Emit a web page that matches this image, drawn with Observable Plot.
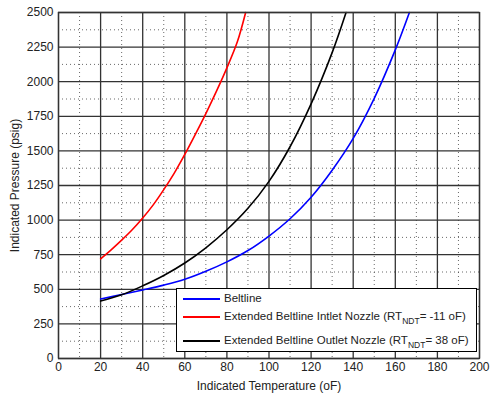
<!DOCTYPE html>
<html><head><meta charset="utf-8">
<script src="https://cdn.jsdelivr.net/npm/d3@7"></script>
<script src="https://cdn.jsdelivr.net/npm/@observablehq/plot@0.6"></script>
<style>
body{margin:0;background:#fff;font-family:"Liberation Sans",Arial,sans-serif;}
#wrap{position:relative;width:492px;height:398px;}
#legend{position:absolute;left:176px;top:288px;width:301px;height:64px;border:1px solid #000;background:#fff;box-sizing:border-box;font-size:11.5px;color:#222;}
.row{position:absolute;left:6px;white-space:nowrap;line-height:14px;}
.row .sw{display:inline-block;width:37px;height:2px;margin-right:4px;vertical-align:middle;}
sub{font-size:8.5px;vertical-align:-4px;line-height:0;}
</style></head><body>
<div id="wrap"></div>
<script>
const xTicks = [0,20,40,60,80,100,120,140,160,180,200];
const yTicks = [0,250,500,750,1000,1250,1500,1750,2000,2250,2500];
const xMinor = [10,30,50,70,90,110,130,150,170,190];
const yMinor = [125,375,625,875,1125,1375,1625,1875,2125,2375];

const beltlineT = [20,30,40,50,60,70,80,90,100,110,120,130,140,150,160,166.7];
const beltlineP = [430,462,495,530,572,630,698,780,885,1010,1165,1360,1590,1880,2230,2500];
const inletT = [20,25,30,35,40,45,50,55,60,65,70,75,80,85,88.9];
const inletP = [720,785,855,930,1015,1110,1220,1340,1475,1620,1770,1930,2100,2290,2500];
const outletT = [20,30,40,50,60,70,80,90,100,110,120,130,136.6];
const outletP = [415,460,525,600,690,800,930,1085,1280,1530,1840,2210,2500];

const series = [
  {name:"Beltline", T:beltlineT, P:beltlineP, color:"#0000ff"},
  {name:"Inlet", T:inletT, P:inletP, color:"#ff0000"},
  {name:"Outlet", T:outletT, P:outletP, color:"#000000"}
];

const lineMarks = series.map(s =>
  Plot.line(s.T.map((t,i)=>({t, p:s.P[i]})), {x:"t", y:"p", stroke:s.color, strokeWidth:1.6, curve:"catmull-rom"})
);

const chart = Plot.plot({
  width:492, height:398,
  marginLeft:58, marginRight:13, marginTop:12, marginBottom:40,
  style:{fontFamily:"Liberation Sans, Arial, sans-serif", fontSize:"12px", color:"#222", background:"#fff"},
  x:{domain:[0,200], ticks:xTicks, tickFormat:d3.format("d"), tickSize:0, tickPadding:4, label:"Indicated Temperature (oF)", labelAnchor:"center", labelArrow:"none", labelOffset:31},
  y:{domain:[0,2500], ticks:yTicks, tickFormat:d3.format("d"), tickSize:0, tickPadding:5, label:"Indicated Pressure (psig)", labelAnchor:"center", labelArrow:"none", labelOffset:48},
  marks:[
    Plot.ruleX(xMinor, {stroke:"#444", strokeDasharray:"1,3", strokeWidth:1, strokeOpacity:0.8}),
    Plot.ruleY(yMinor, {stroke:"#444", strokeDasharray:"1,3", strokeWidth:1, strokeOpacity:0.8}),
    Plot.ruleX(xTicks, {stroke:"#333", strokeWidth:1.3}),
    Plot.ruleY(yTicks, {stroke:"#333", strokeWidth:1.3}),
    ...lineMarks,
    Plot.frame({stroke:"#333", strokeWidth:1.3})
  ]
});
const wrap = document.getElementById("wrap");
wrap.appendChild(chart);
const leg = document.createElement("div");
leg.id = "legend";
leg.innerHTML = `
<div class="row" style="top:2px"><span class="sw" style="background:#0000ff"></span>Beltline</div>
<div class="row" style="top:20px"><span class="sw" style="background:#ff0000"></span>Extended Beltline Intlet Nozzle (RT<sub>NDT</sub>= -11 oF)</div>
<div class="row" style="top:44px"><span class="sw" style="background:#000"></span>Extended Beltline Outlet Nozzle (RT<sub>NDT</sub>= 38 oF)</div>`;
wrap.appendChild(leg);
</script>
</body></html>
